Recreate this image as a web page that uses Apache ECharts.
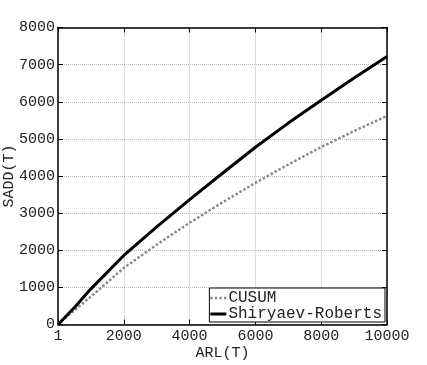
<!DOCTYPE html>
<html><head><meta charset="utf-8">
<script src="https://cdn.jsdelivr.net/npm/echarts@6/dist/echarts.min.js"></script>
<style>html,body{margin:0;padding:0;background:#fff}#c{width:427px;height:365px}</style>
</head><body><div id="c"></div>
<script>
const arl = [1, 500, 1000, 2000, 3000, 4000, 5000, 6000, 7000, 8000, 9000, 10000];
const cusum = [0, 385, 750, 1525, 2150, 2740, 3290, 3815, 4310, 4780, 5210, 5620];
const shiryaevRoberts = [0, 460, 960, 1860, 2630, 3365, 4075, 4775, 5425, 6040, 6640, 7220];
const xTicks = [1, 2000, 4000, 6000, 8000, 10000];
const yTicks = [0, 1000, 2000, 3000, 4000, 5000, 6000, 7000, 8000];

const FONT = 'Liberation Mono';
const chart = echarts.init(document.getElementById('c'), null, {renderer: 'canvas'});
const zip = (xs, ys) => xs.map((x, i) => [x, ys[i]]);
const axisCommon = {
  axisLine: {show: true, onZero: false, lineStyle: {color: '#000', width: 1.5}},
  axisTick: {show: true, inside: true, length: 5, lineStyle: {color: '#000', width: 1}},
};
chart.setOption({
  animation: false,
  backgroundColor: '#fff',
  textStyle: {fontFamily: FONT},
  grid: {left: 58, right: 40, top: 27.5, bottom: 40.5, containLabel: false, outerBoundsMode: 'none'},
  legend: {
    orient: 'vertical', right: 42, bottom: 43,
    backgroundColor: '#fff', borderColor: '#000', borderWidth: 1,
    padding: [2, 3, 0, 1], itemGap: 0, itemWidth: 16, itemHeight: 3,
    textStyle: {fontFamily: FONT, fontSize: 16, color: '#222', padding: [0, 0, 0, -3]},
    data: [
      {name: 'CUSUM', icon: 'path://M0,0h2v2h-2z M4,0h2v2h-2z M8,0h2v2h-2z M12,0h2v2h-2z', itemStyle: {color: '#888'}},
      {name: 'Shiryaev-Roberts', icon: 'rect', itemStyle: {color: '#000'}}
    ]
  },
  xAxis: [{
    type: 'value', min: 0, max: 10000, interval: 2000,
    name: 'ARL(T)', nameLocation: 'middle', nameGap: 21, nameMoveOverlap: false,
    nameTextStyle: {fontFamily: FONT, fontSize: 15, color: '#222'},
    ...axisCommon,
    axisLabel: {fontFamily: FONT, fontSize: 15, color: '#222', margin: 4,
      formatter: v => (v === 0 ? String(xTicks[0]) : String(v))},
    splitLine: {show: true, lineStyle: {color: '#bbb', type: [1, 1], width: 1}}
  }, {
    type: 'value', position: 'top', min: 0, max: 10000, interval: 2000,
    ...axisCommon, axisLabel: {show: false}, splitLine: {show: false}
  }],
  yAxis: [{
    type: 'value', min: 0, max: 8000, interval: 1000,
    name: 'SADD(T)', nameLocation: 'middle', nameGap: 41, nameMoveOverlap: false,
    nameTextStyle: {fontFamily: FONT, fontSize: 15, color: '#222'},
    ...axisCommon,
    axisLabel: {fontFamily: FONT, fontSize: 15, color: '#222', margin: 3, formatter: v => String(v)},
    splitLine: {show: true, lineStyle: {color: '#bbb', type: [1, 1], width: 1}}
  }, {
    type: 'value', position: 'right', min: 0, max: 8000, interval: 1000,
    ...axisCommon, axisLabel: {show: false}, splitLine: {show: false}
  }],
  series: [{
    name: 'CUSUM', type: 'line', data: zip(arl, cusum),
    showSymbol: false, symbol: 'none',
    lineStyle: {color: '#888', width: 2.5, type: [2.5, 2]},
    itemStyle: {color: '#888'}
  }, {
    name: 'Shiryaev-Roberts', type: 'line', data: zip(arl, shiryaevRoberts),
    showSymbol: false, symbol: 'none',
    lineStyle: {color: '#000', width: 3},
    itemStyle: {color: '#000'}
  }]
});
</script></body></html>
